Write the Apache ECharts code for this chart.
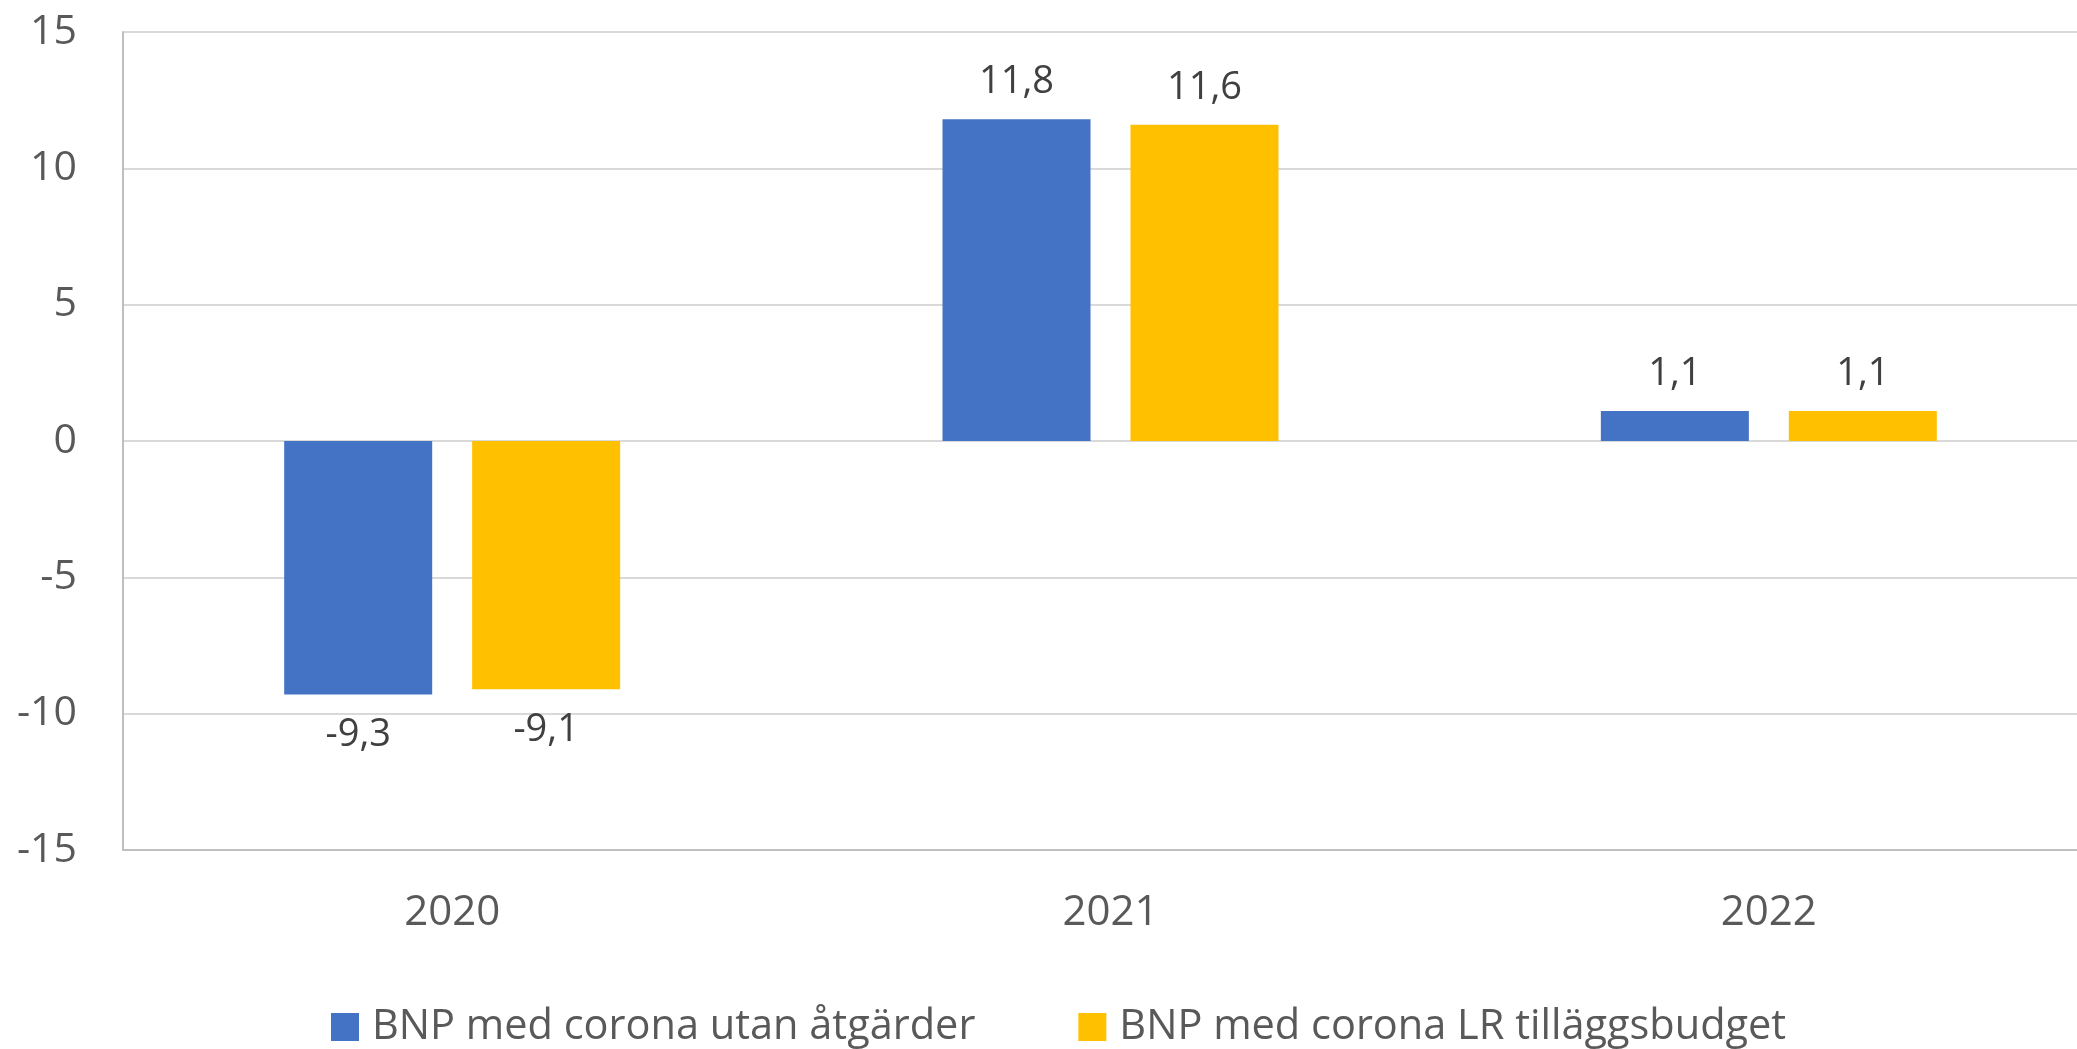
<!DOCTYPE html>
<html>
<head>
<meta charset="utf-8">
<title>BNP med corona</title>
<script src="https://cdn.jsdelivr.net/npm/echarts@6/dist/echarts.min.js"></script>
<style>
  html, body { margin: 0; padding: 0; background: #fff; overflow: hidden; }
  /* the plot area runs a little past the right edge of the window */
  #chart { width: 2098px; height: 1049px; }
</style>
</head>
<body>
<div id="chart"></div>
<script>
// chart data
const years = ["2020", "2021", "2022"];
const seriesNames = ["BNP med corona utan åtgärder", "BNP med corona LR tilläggsbudget"];
const utanAtgarder = [-9.3, 11.8, 1.1];
const lrTillagg = [-9.1, 11.6, 1.1];
const colors = ["#4472C4", "#FFC000"];

const font = "Open Sans";

// negative bars get their label below the bar
function toItems(values) {
  return values.map(v => ({
    value: v,
    label: {
      position: v < 0 ? "bottom" : "top",
      distance: v < 0 ? 22 : 18
    }
  }));
}

const chart = echarts.init(document.getElementById("chart"));

chart.setOption({
  animation: false,
  textStyle: { fontFamily: font },
  grid: {
    left: 123,
    right: 0,
    top: 32,
    bottom: 199
  },
  legend: {
    bottom: -4,
    left: 326,
    itemWidth: 28,
    itemHeight: 28,
    itemGap: 103,
    icon: "rect",
    textStyle: {
      fontFamily: font,
      fontSize: 41.5,
      color: "#595959",
      padding: [0, 0, 0, 8]
    },
    data: seriesNames
  },
  xAxis: {
    type: "category",
    data: years,
    axisLine: { onZero: false, lineStyle: { color: "#BFBFBF", width: 2 } },
    axisTick: { show: false },
    axisLabel: {
      fontFamily: font,
      fontSize: 42,
      color: "#595959",
      margin: 42
    }
  },
  yAxis: {
    type: "value",
    min: -15,
    max: 15,
    interval: 5,
    axisLine: { show: true, lineStyle: { color: "#BFBFBF", width: 2 } },
    axisTick: { show: false },
    splitLine: { lineStyle: { color: "#D9D9D9", width: 2 } },
    axisLabel: {
      fontFamily: font,
      fontSize: 41,
      color: "#595959",
      margin: 46
    }
  },
  series: [
    {
      name: seriesNames[0],
      type: "bar",
      data: toItems(utanAtgarder),
      barWidth: 148,
      barGap: "27%",
      itemStyle: { color: colors[0] },
      label: {
        show: true,
        fontFamily: font,
        fontSize: 38,
        color: "#404040",
        formatter: p => String(p.value).replace(".", ",")
      }
    },
    {
      name: seriesNames[1],
      type: "bar",
      data: toItems(lrTillagg),
      barWidth: 148,
      barGap: "27%",
      itemStyle: { color: colors[1] },
      label: {
        show: true,
        fontFamily: font,
        fontSize: 38,
        color: "#404040",
        formatter: p => String(p.value).replace(".", ",")
      }
    }
  ]
});
</script>
</body>
</html>
